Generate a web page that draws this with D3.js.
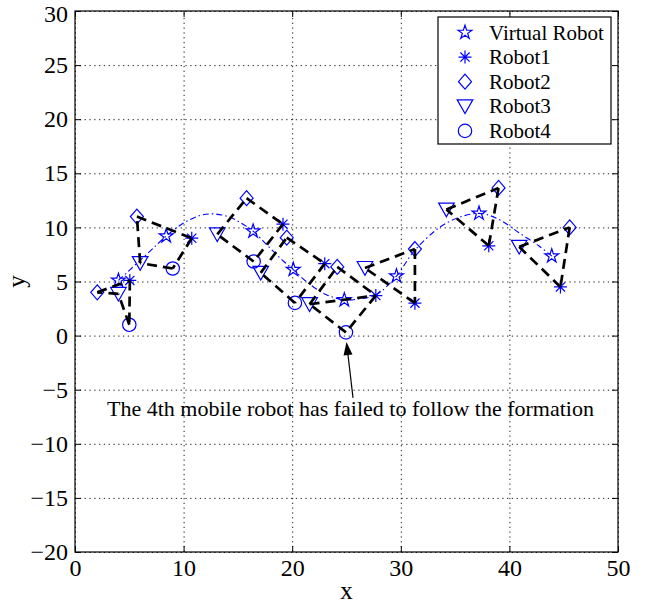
<!DOCTYPE html>
<html>
<head>
<meta charset="utf-8">
<script src="https://cdn.jsdelivr.net/npm/d3@7"></script>
<style>
  body { margin: 0; background: #fff; }
  text { font-family: "Liberation Serif", "Times New Roman", serif; }
</style>
</head>
<body>
<div id="canvasplot"></div>
<script>
// positions of each robot at the 8 formation snapshots
var virtualRobot = [[4,5.1],[8.4,9.2],[16.4,9.65],[20.1,6.1],[24.8,3.3],[29.6,5.5],[37.2,11.3],[43.9,7.35]];
var robot1 = [[5.05,5.1],[10.75,9.0],[19.15,10.3],[23.0,6.65],[27.7,3.7],[31.3,3.0],[38.1,8.3],[44.7,4.5]];
var robot2 = [[2.05,4.0],[5.7,11.0],[15.8,12.7],[19.5,9.05],[24.15,6.35],[31.3,8.0],[39.0,13.65],[45.55,10.0]];
var robot3 = [[4.0,3.85],[6.0,6.7],[13.1,9.35],[17.1,5.8],[21.6,2.9],[26.7,6.25],[34.2,11.65],[40.9,8.2]];
var robot4 = [[5.0,1.0],[9.0,6.2],[16.45,6.85],[20.25,3.02],[24.95,0.3]];

// virtual robot trajectory
var virtualPath = [[4,5.1],[6.75,7.65],[8.4,9.2],[10,10.4],[11.5,11.1],[12.7,11.25],[14.1,11.0],[15.3,10.4],
  [16.4,9.65],[17.8,8.25],[19.2,6.87],[20.1,6.1],[21.3,5.0],[23.1,3.8],[24.8,3.3],[26.2,3.4],[27.7,3.75],
  [29.6,5.5],[31.3,7.9],[34.2,10.4],[37.2,11.3],[39.1,10.7],[40.9,9.5],[42.7,8.3],[43.9,7.35]];

// formation edges for each snapshot
var quadLinks = [["r2","r1"],["r1","r4"],["r4","r3"],["r3","r2"]];
var triLinks  = [["r3","r2"],["r2","r1"],["r1","r3"]];
var stepLinks = [quadLinks, quadLinks, quadLinks, quadLinks, quadLinks.concat([["r3","r1"]]), triLinks, triLinks, triLinks];

var xTicks = [0,10,20,30,40,50];
var yTicks = [-20,-15,-10,-5,0,5,10,15,20,25,30];

var legendNames = ["Virtual Robot","Robot1","Robot2","Robot3","Robot4"];
var legendSymbols = ["star","asterisk","diamond","triangle","circle"];

var noteText = "The 4th mobile robot has failed to follow the formation";
var notePos = [2.95, -7.4];
var arrowFrom = [25.6, -5.75], arrowTo = [25.0, -0.6];

var serif = '"Liberation Serif", "Times New Roman", serif';
var W = 648, H = 603;
var margin = {left: 75, top: 11, right: 30, bottom: 51};
var width = W - margin.left - margin.right,
    height = H - margin.top - margin.bottom;

var svg = d3.select('#canvasplot').append('svg')
    .attr('width', W)
    .attr('height', H);

var inner = svg.append('g')
    .attr('transform', 'translate(' + margin.left + ',' + margin.top + ')');

var Xscale = d3.scaleLinear().domain([0, 50]).range([0, width]);
var Yscale = d3.scaleLinear().domain([-20, 30]).range([height, 0]);

// grid
inner.append('g')
    .attr('class', 'grid')
    .attr('transform', 'translate(0,' + height + ')')
    .call(d3.axisBottom(Xscale).tickValues(xTicks).tickSize(-height).tickFormat(''));
inner.append('g')
    .attr('class', 'grid')
    .call(d3.axisLeft(Yscale).tickValues(yTicks).tickSize(-width).tickFormat(''));
inner.selectAll('.grid .domain').remove();
inner.selectAll('.grid line')
    .style('stroke', '#222')
    .style('stroke-width', 1)
    .style('stroke-dasharray', '1.3,3.5');

// axes, ticks pointing inwards on all sides
var fmt = d3.format('');
var axB = inner.append('g').attr('class', 'axis').attr('transform', 'translate(0,' + height + ')')
    .call(d3.axisBottom(Xscale).tickValues(xTicks).tickSizeInner(-6).tickSizeOuter(0).tickPadding(7).tickFormat(fmt));
var axL = inner.append('g').attr('class', 'axis')
    .call(d3.axisLeft(Yscale).tickValues(yTicks).tickSizeInner(-6).tickSizeOuter(0).tickPadding(7).tickFormat(fmt));
inner.append('g').attr('class', 'axis')
    .call(d3.axisTop(Xscale).tickValues(xTicks).tickSizeInner(-6).tickSizeOuter(0).tickFormat(''));
inner.append('g').attr('class', 'axis').attr('transform', 'translate(' + width + ',0)')
    .call(d3.axisRight(Yscale).tickValues(yTicks).tickSizeInner(-6).tickSizeOuter(0).tickFormat(''));
inner.selectAll('.domain').remove();
inner.selectAll('.axis')
    .attr('font-family', serif)
    .attr('font-size', 24);
inner.selectAll('.axis .tick line').style('stroke', '#000');
inner.selectAll('.axis .tick text')
    .style('font-family', serif)
    .style('font-size', '24px')
    .style('fill', '#000');
// keep the top label inside the window
axL.selectAll('.tick text').filter(function(d) { return d === 30; }).attr('dy', '0.45em');

inner.append('rect')
    .attr('width', width)
    .attr('height', height)
    .attr('fill', 'none')
    .attr('stroke', '#000')
    .attr('stroke-width', 1.2);

// axis labels
svg.append('text')
    .attr('x', margin.left + width / 2)
    .attr('y', 599)
    .attr('text-anchor', 'middle')
    .style('font-size', '25px')
    .text('x');
svg.append('text')
    .attr('transform', 'translate(' + 25 + ',' + (margin.top + height / 2) + ') rotate(-90)')
    .attr('text-anchor', 'middle')
    .style('font-size', '25px')
    .text('y');

// marker shapes
function markerPath(kind) {
    if (kind === 'star') return d3.symbol().type(d3.symbolStar).size(60)();
    if (kind === 'asterisk') {
        var r = 6.5, d = r * Math.SQRT1_2;
        return 'M' + (-r) + ',0L' + r + ',0M0,' + (-r) + 'L0,' + r +
               'M' + (-d) + ',' + (-d) + 'L' + d + ',' + d + 'M' + (-d) + ',' + d + 'L' + d + ',' + (-d);
    }
    if (kind === 'diamond') return 'M0,-7.5L6.5,0L0,7.5L-6.5,0Z';
    if (kind === 'triangle') return 'M-7.8,-6.5L7.8,-6.5L0,7.2Z';
    if (kind === 'circle') return d3.symbol().type(d3.symbolCircle).size(Math.PI * 6.7 * 6.7)();
}

// virtual robot trajectory
var trajLine = d3.line()
    .x(function(d) { return Xscale(d[0]); })
    .y(function(d) { return Yscale(d[1]); })
    .curve(d3.curveCatmullRom);
inner.append('path')
    .datum(virtualPath)
    .attr('d', trajLine)
    .style('fill', 'none')
    .style('stroke', '#0000ff')
    .style('stroke-width', 1.1)
    .style('stroke-dasharray', '6,3,1.5,3');

// markers
var series = [
    {data: virtualRobot, kind: 'star'},
    {data: robot1, kind: 'asterisk'},
    {data: robot2, kind: 'diamond'},
    {data: robot3, kind: 'triangle'},
    {data: robot4, kind: 'circle'}
];
series.forEach(function(s) {
    inner.append('g').selectAll('path')
        .data(s.data)
        .enter().append('path')
        .attr('d', markerPath(s.kind))
        .attr('transform', function(d) { return 'translate(' + Xscale(d[0]) + ',' + Yscale(d[1]) + ')'; })
        .style('fill', 'none')
        .style('stroke', '#0000ff')
        .style('stroke-width', 1.2);
});

// formation links (black dashed)
var robots = {r1: robot1, r2: robot2, r3: robot3, r4: robot4};
var links = [];
stepLinks.forEach(function(ls, i) {
    ls.forEach(function(l) {
        links.push({a: robots[l[0]][i], b: robots[l[1]][i]});
    });
});
inner.append('g').selectAll('line')
    .data(links)
    .enter().append('line')
    .attr('x1', function(d) { return Xscale(d.a[0]); })
    .attr('y1', function(d) { return Yscale(d.a[1]); })
    .attr('x2', function(d) { return Xscale(d.b[0]); })
    .attr('y2', function(d) { return Yscale(d.b[1]); })
    .style('stroke', '#000')
    .style('stroke-width', 2.7)
    .style('stroke-dasharray', '10,6');

// annotation arrow
var ax1 = Xscale(arrowFrom[0]), ay1 = Yscale(arrowFrom[1]),
    ax2 = Xscale(arrowTo[0]), ay2 = Yscale(arrowTo[1]);
var ang = Math.atan2(ay2 - ay1, ax2 - ax1), hl = 13, hw = 4.5;
var bx = ax2 - hl * Math.cos(ang), by = ay2 - hl * Math.sin(ang);
inner.append('line')
    .attr('x1', ax1).attr('y1', ay1).attr('x2', bx).attr('y2', by)
    .style('stroke', '#000').style('stroke-width', 1.2);
inner.append('path')
    .attr('d', 'M' + ax2 + ',' + ay2 +
        'L' + (bx + hw * Math.sin(ang)) + ',' + (by - hw * Math.cos(ang)) +
        'L' + (bx - hw * Math.sin(ang)) + ',' + (by + hw * Math.cos(ang)) + 'Z')
    .style('fill', '#000');
inner.append('text')
    .attr('x', Xscale(notePos[0]))
    .attr('y', Yscale(notePos[1]))
    .style('font-family', serif)
    .style('font-size', '22px')
    .text(noteText);

// legend
var legend = svg.append('g').attr('transform', 'translate(438,17)');
legend.append('rect')
    .attr('width', 173)
    .attr('height', 127)
    .attr('fill', '#fff')
    .attr('stroke', '#000')
    .attr('stroke-width', 1.2);
legendNames.forEach(function(name, i) {
    var y = 15.5 + i * 24.6;
    legend.append('path')
        .attr('d', markerPath(legendSymbols[i]))
        .attr('transform', 'translate(27,' + y + ')')
        .style('fill', 'none')
        .style('stroke', '#0000ff')
        .style('stroke-width', 1.2);
    legend.append('text')
        .attr('x', 51)
        .attr('y', y + 7)
        .style('font-family', serif)
        .style('font-size', '21px')
        .text(name);
});
</script>
</body>
</html>
